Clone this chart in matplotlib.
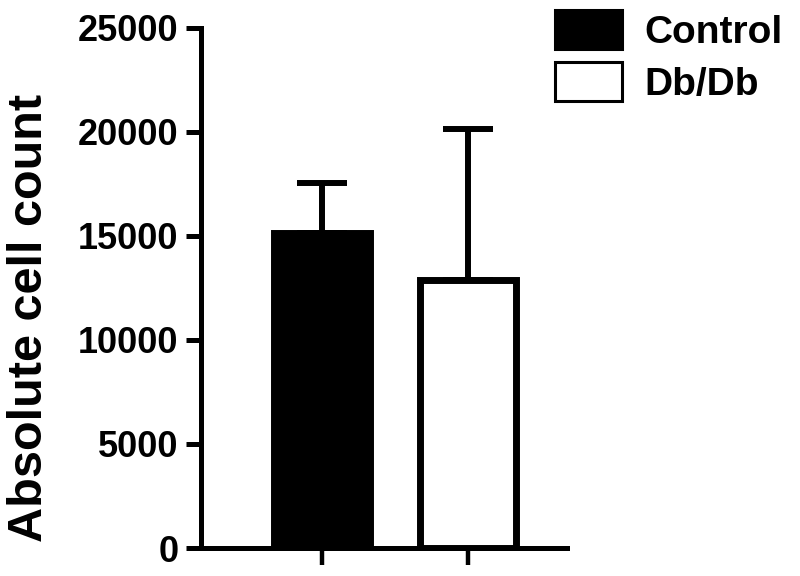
import matplotlib
matplotlib.use("Agg")
import matplotlib.pyplot as plt
from matplotlib.patches import Patch

groups = ["Control", "Db/Db"]
means = [15150, 12900]
errors = [2410, 7230]
face_colors = ["black", "white"]
yticks = [0, 5000, 10000, 15000, 20000, 25000]
ylabel = "Absolute cell count"

plt.rcParams['font.family'] = ['Liberation Sans', 'DejaVu Sans']
plt.rcParams['font.weight'] = 'bold'

fig = plt.figure(figsize=(8, 5.76), dpi=100)
ax = fig.add_axes([200.7/800, 1-548/576, (567-200.7)/800, (548-28)/576])

x = list(range(len(groups)))
ax.bar(x, means, width=0.664, color=face_colors, edgecolor="black",
       linewidth=5, zorder=3)
ax.errorbar(x, means, yerr=[[0]*len(errors), errors], fmt='none',
            ecolor='black', elinewidth=4.3, capsize=18, capthick=4.3,
            zorder=2)

ax.set_xlim(-0.831, 1.678)
ax.set_ylim(0, 25000)
ax.set_yticks(yticks)
ax.set_yticklabels([str(t) for t in yticks], fontsize=26, fontweight='bold')
ax.set_xticks(x)
ax.set_xticklabels([])
ax.tick_params(axis='y', direction='out', length=11, width=3.6, pad=5)
ax.tick_params(axis='x', direction='out', length=12, width=3.2)
for s in ['top', 'right']:
    ax.spines[s].set_visible(False)
for s in ['left', 'bottom']:
    ax.spines[s].set_linewidth(3.6)
ax.patch.set_alpha(0)

fig.text(30/800, 1-317.5/576, ylabel, rotation=90, ha='center', va='center',
         fontsize=35, fontweight='bold')

handles = [Patch(facecolor=c, edgecolor='black', linewidth=2.2) for c in face_colors]
leg = fig.legend(handles, groups, loc='upper left',
                 bbox_to_anchor=(555/800, 1-10/576), frameon=False,
                 prop={'size': 28, 'weight': 'bold'},
                 handlelength=1.72, handleheight=1.17, handletextpad=0.59,
                 labelspacing=0.3, borderpad=0, borderaxespad=0)

fig.savefig("out.png", dpi=100)
